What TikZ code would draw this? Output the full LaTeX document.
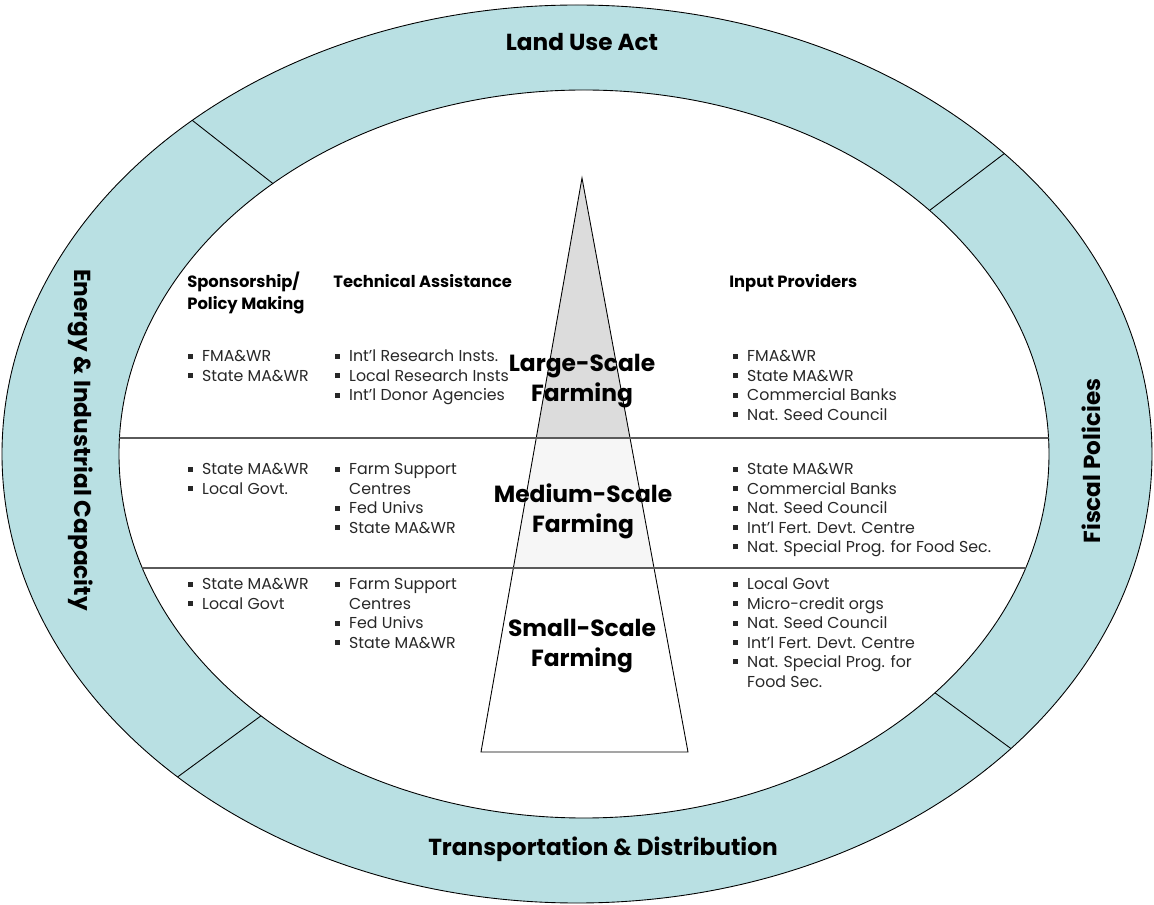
\documentclass[tikz,border=0pt]{standalone}
\usepackage{fontspec}
\setmainfont{Poppins}
\usetikzlibrary{positioning}
\usetikzlibrary{calc}

\definecolor{ringteal}{RGB}{185,224,227}
\definecolor{topgray}{RGB}{220,220,220}
\definecolor{midgray}{RGB}{246,246,246}
\definecolor{rowline}{RGB}{90,90,90}
\definecolor{listtext}{RGB}{40,40,40}

\newcommand{\sqbullet}{\rule[0.2em]{0.32em}{0.32em}}
\newcommand{\itemlist}[1]{\begin{tabular}[t]{@{}l@{\hspace{5pt}}l@{}}#1\end{tabular}}
\newcommand{\headlist}[1]{\begin{tabular}[t]{@{}l@{}}#1\end{tabular}}

\begin{document}
\begin{tikzpicture}[x=0.02cm, y=-0.02cm,
    ring/.style={fill=ringteal, even odd rule},
    rim/.style={draw=black, line width=0.5pt},
    rowrule/.style={draw=rowline, line width=1.2pt},
    ringlabel/.style={font=\fontsize{13.2}{16}\selectfont\bfseries, inner sep=0pt},
    tierlabel/.style={font=\fontsize{13.3}{17}\selectfont\bfseries, align=center, inner sep=0pt},
    colhead/.style={font=\fontsize{9.3}{12.5}\selectfont\bfseries, anchor=base west, inner sep=0pt},
    bullets/.style={font=\fontsize{9}{11.05}\selectfont, text=listtext, anchor=base west, inner sep=0pt}]
    \useasboundingbox (0,0) rectangle (1154,905);

    % outer ring
    \fill[ring] (577,454) ellipse [x radius=575, y radius=449]
                (584,454) ellipse [x radius=465, y radius=364];
    \draw[rim] (577,454) ellipse [x radius=575, y radius=449];
    \draw[rim] (584,454) ellipse [x radius=465, y radius=364];
    \foreach \a in {42,132,226,-41}{
        \coordinate (out\a) at ($(577,454)+({575*cos(\a)},{-449*sin(\a)})$);
        \coordinate (in\a) at ($(584,454)+({465*cos(\a)},{-364*sin(\a)})$);
        \draw[rim] (in\a) -- (out\a);
    }

    % pyramid
    \coordinate (apex) at (582,178);
    \coordinate (baseL) at (481,752);
    \coordinate (baseR) at (688,752);
    \begin{scope}
        \clip (apex) -- (baseL) -- (baseR) -- cycle;
        \fill[topgray] (400,170) rectangle (760,438);
        \fill[midgray] (400,438) rectangle (760,568);
    \end{scope}
    \draw[rim] (apex) -- (baseL) -- (baseR) -- cycle;

    \begin{scope}
        \clip (584,454) ellipse [x radius=465, y radius=364];
        \draw[rowrule] (0,438) -- (1154,438);
        \draw[rowrule] (0,568) -- (1154,568);
    \end{scope}

    % ring labels
    \node[ringlabel] (landuse) at (582,42) {Land Use Act};
    \node[ringlabel] (transport) at (603,849) {Transportation \& Distribution};
    \node[ringlabel, rotate=-90] (energy) at (81,440) {Energy \& Industrial Capacity};
    \node[ringlabel, rotate=90] (fiscal) at (1091,461) {Fiscal Policies};

    % tiers
    \node[tierlabel] (large) at (582,381) {Large-Scale\\Farming};
    \node[tierlabel] (medium) at (583,511) {Medium-Scale\\Farming};
    \node[tierlabel] (small) at (582,646) {Small-Scale\\Farming};

    % column heads
    \node[colhead] (sponsor) at (187,288) {\headlist{Sponsorship/\\Policy Making}};
    \node[colhead] (techhead) at (333,288) {\headlist{Technical Assistance}};
    \node[colhead] (inputhead) at (729,288) {\headlist{Input Providers}};

    % large-scale row
    \node[bullets] (sponsorL) at (188,362) {\itemlist{\sqbullet & FMA\&WR\\ \sqbullet & State MA\&WR}};
    \node[bullets] (techL) at (335,362) {\itemlist{\sqbullet & Int'l Research Insts.\\ \sqbullet & Local Research Insts\\ \sqbullet & Int'l Donor Agencies}};
    \node[bullets] (inputL) at (733,362) {\itemlist{\sqbullet & FMA\&WR\\ \sqbullet & State MA\&WR\\ \sqbullet & Commercial Banks\\ \sqbullet & Nat. Seed Council}};

    % medium-scale row
    \node[bullets] (sponsorM) at (188,475) {\itemlist{\sqbullet & State MA\&WR\\ \sqbullet & Local Govt.}};
    \node[bullets] (techM) at (335,475) {\itemlist{\sqbullet & Farm Support\\ & Centres\\ \sqbullet & Fed Univs\\ \sqbullet & State MA\&WR}};
    \node[bullets] (inputM) at (733,475) {\itemlist{\sqbullet & State MA\&WR\\ \sqbullet & Commercial Banks\\ \sqbullet & Nat. Seed Council\\ \sqbullet & Int'l Fert. Devt. Centre\\ \sqbullet & Nat. Special Prog. for Food Sec.}};

    % small-scale row
    \node[bullets] (sponsorS) at (188,590) {\itemlist{\sqbullet & State MA\&WR\\ \sqbullet & Local Govt}};
    \node[bullets] (techS) at (335,590) {\itemlist{\sqbullet & Farm Support\\ & Centres\\ \sqbullet & Fed Univs\\ \sqbullet & State MA\&WR}};
    \node[bullets] (inputS) at (733,590) {\itemlist{\sqbullet & Local Govt\\ \sqbullet & Micro-credit orgs\\ \sqbullet & Nat. Seed Council\\ \sqbullet & Int'l Fert. Devt. Centre\\ \sqbullet & Nat. Special Prog. for\\ & Food Sec.}};
\end{tikzpicture}
\end{document}
